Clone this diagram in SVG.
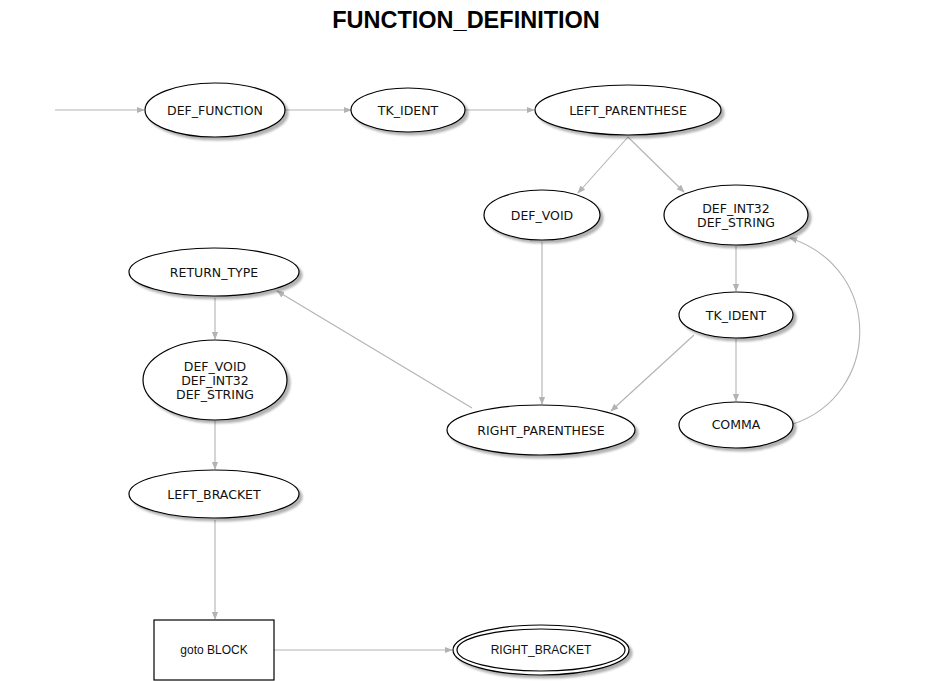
<svg xmlns="http://www.w3.org/2000/svg" width="931" height="681" viewBox="0 0 931 681">
<defs>
<style>
.n ellipse, .n rect{fill:#fff;stroke:#000;stroke-width:1.2}
.t{font-family:"DejaVu Sans","Noto Sans",sans-serif;font-size:12.5px;fill:#111;text-anchor:middle;dominant-baseline:central}
.ta{font-family:"Liberation Sans",Arial,sans-serif;font-size:12px;fill:#111;text-anchor:middle;dominant-baseline:central}
.e{fill:none;stroke:#b3b3b3;stroke-width:1.1;marker-end:url(#ah)}
.title{font-family:"Liberation Sans",Arial,sans-serif;font-size:23.5px;font-weight:bold;text-anchor:middle}
</style>
<marker id="ah" viewBox="0 0 10 10" refX="9" refY="5" markerWidth="8" markerHeight="8" markerUnits="userSpaceOnUse" orient="auto">
<path d="M0,1 L10,5 L0,9 z" fill="#b3b3b3"/>
</marker>
<filter id="sh" x="-20%" y="-20%" width="150%" height="150%">
<feDropShadow dx="3" dy="3" stdDeviation="1.2" flood-color="#000" flood-opacity="0.3"/>
</filter>
</defs>
<rect width="931" height="681" fill="#fff"/>
<text class="title" x="466" y="28">FUNCTION_DEFINITION</text>

<g id="connectors">
<path class="e" d="M55,110 L144,110"/>
<path class="e" d="M285,110 L351,110"/>
<path class="e" d="M465,110 L534,110"/>
<path class="e" d="M628,137 L578,193"/>
<path class="e" d="M628,137 L684,192"/>
<path class="e" d="M736,246 L736,291"/>
<path class="e" d="M736,339 L736,401"/>
<path class="e" d="M793,424 C880,395 885,270 790,238"/>
<path class="e" d="M694,335 L611,411"/>
<path class="e" d="M542,242 L542,404"/>
<path class="e" d="M472,408 L277,291"/>
<path class="e" d="M215,298 L215,339"/>
<path class="e" d="M215,421 L215,469"/>
<path class="e" d="M215,520 L215,619"/>
<path class="e" d="M274,650 L452,650"/>
</g>

<g id="def_function" class="n"><ellipse cx="215" cy="110" rx="70" ry="27" filter="url(#sh)"/><text class="t" x="215" y="110">DEF_FUNCTION</text></g>
<g id="tk_ident1" class="n"><ellipse cx="408" cy="110" rx="57" ry="22" filter="url(#sh)"/><text class="t" x="408" y="110">TK_IDENT</text></g>
<g id="left_parenthese" class="n"><ellipse cx="628" cy="110" rx="93" ry="25" filter="url(#sh)"/><text class="t" x="628" y="110">LEFT_PARENTHESE</text></g>
<g id="def_void1" class="n"><ellipse cx="542" cy="215" rx="58" ry="25" filter="url(#sh)"/><text class="t" x="542" y="215">DEF_VOID</text></g>
<g id="def_int32_string" class="n"><ellipse cx="736" cy="215" rx="72" ry="30" filter="url(#sh)"/><text class="t" x="736" y="208">DEF_INT32</text><text class="t" x="736" y="222">DEF_STRING</text></g>
<g id="tk_ident2" class="n"><ellipse cx="736" cy="315" rx="57" ry="23" filter="url(#sh)"/><text class="t" x="736" y="315">TK_IDENT</text></g>
<g id="comma" class="n"><ellipse cx="736" cy="425" rx="57" ry="23" filter="url(#sh)"/><text class="t" x="736" y="424">COMMA</text></g>
<g id="right_parenthese" class="n"><ellipse cx="541" cy="430" rx="94" ry="25" filter="url(#sh)"/><text class="t" x="541" y="430">RIGHT_PARENTHESE</text></g>
<g id="return_type" class="n"><ellipse cx="214" cy="272" rx="85" ry="24" filter="url(#sh)"/><text class="t" x="214" y="272">RETURN_TYPE</text></g>
<g id="def_types" class="n"><ellipse cx="215" cy="380" rx="72" ry="40" filter="url(#sh)"/><text class="t" x="215" y="366">DEF_VOID</text><text class="t" x="215" y="380">DEF_INT32</text><text class="t" x="215" y="394">DEF_STRING</text></g>
<g id="left_bracket" class="n"><ellipse cx="214" cy="494" rx="85" ry="24" filter="url(#sh)"/><text class="t" x="214" y="494">LEFT_BRACKET</text></g>
<g id="goto_block" class="n"><rect x="154" y="620" width="120" height="60"/><text class="ta" x="214" y="650">goto BLOCK</text></g>
<g id="right_bracket" class="n"><ellipse cx="541" cy="650" rx="88" ry="25" filter="url(#sh)"/><ellipse cx="541" cy="650" rx="84" ry="21"/><text class="ta" x="541" y="650">RIGHT_BRACKET</text></g>
</svg>
